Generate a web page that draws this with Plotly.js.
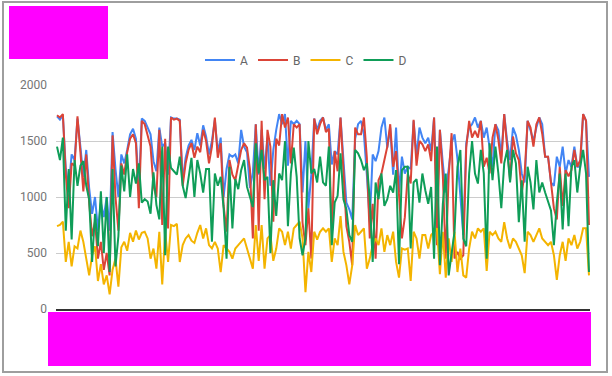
<!DOCTYPE html>
<html>
<head>
<meta charset="utf-8">
<script src="https://cdn.plot.ly/plotly-3.0.1.min.js"></script>
<style>html,body{margin:0;padding:0;background:#fff;}#chart{width:612px;height:376px;}</style>
</head>
<body>
<div id="chart"></div>
<script>
const seriesNames = ["A", "B", "C", "D"];
const seriesColors = ["#4285F4", "#DB4437", "#F4B400", "#0F9D58"];
const yTickValues = [0, 500, 1000, 1500, 2000];
const yTickLabels = ["0", "500", "1000", "1500", "2000"];

const valuesA = [
  1720,1690,1730,1250,1080,1380,1330,1700,1450,1180,1420,1080,850,1000,700,950,820,1000,700,1580,1250,1000,1380,1300,1420,1560,1610,1520,1080,1700,
  1680,1620,1560,1320,1230,1620,1450,1480,1200,1710,1700,1700,1690,1150,1350,1460,1510,1420,1570,1460,1640,1540,1380,1500,1690,1400,1530,1000,1250,1380,
  1360,1380,1300,1600,1450,1400,1080,1220,1650,1200,1600,1250,1530,1100,1420,1600,1740,1650,1740,1280,1680,1650,1680,1650,1040,1500,900,1200,1700,1600,
  1680,1710,1600,1650,1290,1410,1380,1710,1330,950,890,800,1520,1650,1680,1560,1200,780,1380,1320,1410,1620,1710,1440,1620,1200,1620,1040,1360,1210,
  1270,1250,1680,1360,1620,1530,1480,1530,1410,1710,920,1600,1300,1040,1250,1480,1560,1340,1010,660,1480,1620,1650,1710,1620,1680,1530,1620,1440,1270,
  1650,1595,1360,1740,1500,1330,1620,1550,1420,1210,1130,1680,1595,1500,1620,1710,1650,1360,1360,1130,1100,1360,1270,1450,1210,1330,1270,1450,1270,1270,1740,1680,1180
];
const valuesB = [
  1730,1710,1740,1200,900,1300,1280,1720,1400,1050,1380,950,650,780,450,600,350,500,300,1550,1000,700,1300,1200,1400,1520,1560,1480,900,1680,
  1650,1550,1450,1100,1000,1600,750,1520,720,1710,1690,1700,1680,1100,1300,1420,1480,1350,1450,1400,1600,1500,1300,1450,1710,1350,1480,920,690,1330,
  1200,1150,1300,1420,1480,1440,1250,630,1650,700,1680,980,1600,1450,780,1520,1460,1740,1620,1710,1300,1650,1620,1650,770,570,900,450,1700,1560,
  1650,1710,1580,1610,630,1410,1230,1710,1230,740,600,390,1620,1560,1560,1710,1350,630,940,450,1150,1210,1330,1450,1650,1270,1410,1010,630,820,
  1210,1120,1690,1280,1500,1470,1410,1470,1320,1710,570,1600,1190,450,1190,1570,450,510,450,480,1440,1680,1530,1590,1530,1680,1270,1350,1210,1530,
  1650,1510,1300,1740,1450,1155,1540,1390,1330,1040,1210,1680,1620,1450,1650,1710,1565,1360,1360,1100,900,800,1270,920,1240,1185,1240,1420,1270,1330,1740,1680,750
];
const valuesC = [
  740,750,780,420,600,380,560,540,700,600,450,300,480,560,250,400,220,300,130,350,450,200,550,600,520,680,600,700,620,680,
  690,630,450,540,360,690,220,690,420,750,740,760,420,570,630,660,610,590,680,750,630,720,570,540,600,540,330,570,540,510,
  450,540,570,600,630,540,450,360,750,430,750,360,630,660,430,540,720,690,570,690,540,720,750,780,630,150,510,330,690,620,
  690,720,690,720,420,630,570,830,510,390,220,390,750,660,690,720,360,450,570,630,570,720,510,660,570,690,420,280,540,530,
  540,250,690,630,450,660,660,540,660,690,720,310,690,280,630,420,690,330,540,300,280,540,690,630,720,690,720,340,690,660,
  690,630,600,775,630,540,630,600,540,480,320,690,660,600,660,720,630,600,570,600,480,260,480,600,430,630,570,660,540,600,720,720,300
];
const valuesD = [
  1450,1330,1530,700,1250,620,1330,1100,1280,1320,1100,980,420,850,560,1050,500,1000,330,1250,380,650,1280,1050,1380,1000,1250,1120,1300,950,
  980,960,850,1220,930,800,1450,480,1450,1260,1230,1200,1360,1100,990,1170,1350,1000,1330,1210,1040,1250,1250,600,1210,1100,1180,900,450,1270,
  720,1160,1070,1240,1330,1090,1000,910,1480,1210,1420,1150,1180,500,1150,830,1210,1150,1500,740,1210,1440,1180,630,480,630,1500,1210,1250,1130,
  1360,1130,1100,1450,570,950,1010,1390,980,890,660,600,1420,1390,1330,1240,1300,980,420,1130,980,1210,920,980,1100,1040,1240,400,1240,1270,
  1270,540,1130,1160,950,1210,1060,940,1090,450,1450,390,940,1210,300,510,690,1270,1420,630,560,1210,1500,1210,1120,1420,1210,450,1480,1150,
  1450,1210,900,1300,1420,1130,1420,1300,775,1150,600,1270,1130,890,1330,1040,1130,1040,950,880,570,950,1210,710,1210,740,1270,1330,1040,1270,1420,1210,330
];

const allValues = [valuesA, valuesB, valuesC, valuesD];
const xIndex = valuesA.map((_, i) => i);

const traces = allValues.map((vals, k) => ({
  type: "scatter",
  mode: "lines",
  name: seriesNames[k],
  x: xIndex,
  y: vals,
  line: { color: seriesColors[k], width: 2 },
  hoverinfo: "skip"
}));

// pixel -> paper helpers (plot area 56..590 x, 85..309 y)
const L = 56, R = 590, T = 85, B = 309;
const px = v => (v - L) / (R - L);
const py = v => (B - v) / (B - T);

const layout = {
  width: 612,
  height: 376,
  margin: { l: L, r: 612 - R, t: T, b: 376 - B, pad: 0 },
  paper_bgcolor: "#ffffff",
  plot_bgcolor: "#ffffff",
  font: { family: "Roboto, Arial, sans-serif", size: 12, color: "#757575" },
  showlegend: true,
  legend: {
    orientation: "h",
    xref: "container", yref: "container",
    x: 0.5, xanchor: "center",
    y: 1 - 60 / 376, yanchor: "middle",
    font: { family: "Roboto, Arial, sans-serif", size: 12, color: "#666666" },
    itemwidth: 30,
    bgcolor: "rgba(0,0,0,0)"
  },
  xaxis: {
    range: [-0.35, xIndex.length - 1 + 0.35],
    showgrid: false,
    zeroline: false,
    showticklabels: false,
    ticks: "",
    showline: true,
    linecolor: "#333333",
    linewidth: 2,
    automargin: false,
    fixedrange: true
  },
  yaxis: {
    range: [0, 2000],
    tickvals: yTickValues,
    ticktext: yTickLabels,
    showgrid: true,
    gridcolor: "#cccccc",
    gridwidth: 1,
    zeroline: false,
    showline: false,
    ticks: "",
    ticklabelstandoff: 8,
    tickfont: { family: "Roboto, Arial, sans-serif", size: 12, color: "#757575" },
    automargin: false,
    fixedrange: true
  },
  shapes: [
    { type: "rect", xref: "paper", yref: "paper",
      x0: px(3), x1: px(607), y0: py(372), y1: py(2),
      line: { color: "#9e9e9e", width: 2 }, fillcolor: "rgba(0,0,0,0)", layer: "below" },
    { type: "rect", xref: "paper", yref: "paper",
      x0: px(9), x1: px(108), y0: py(59), y1: py(6),
      line: { width: 0 }, fillcolor: "#ff00ff", layer: "above" },
    { type: "rect", xref: "paper", yref: "paper",
      x0: px(48), x1: px(591), y0: py(366), y1: py(312),
      line: { width: 0 }, fillcolor: "#ff00ff", layer: "above" }
  ]
};

Plotly.newPlot("chart", traces, layout, { displayModeBar: false, staticPlot: true });
</script>
</body>
</html>
